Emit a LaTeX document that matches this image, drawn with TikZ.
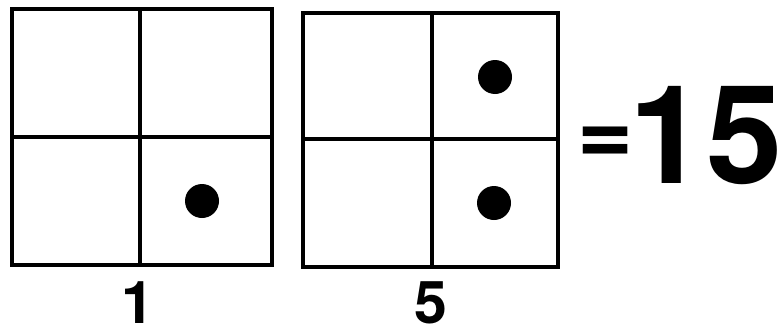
\documentclass[tikz,border=0pt]{standalone}
\usepackage{fontspec}
\setmainfont{TeX Gyre Heros}
\begin{document}
\begin{tikzpicture}[x=1pt,y=-1pt,
  frame/.style={draw=black,line width=4.5pt},
  divider/.style={draw=black,line width=4.5pt},
  dot/.style={circle,fill=black,minimum size=34pt,inner sep=0pt},
  lab/.style={font=\fontsize{59}{59}\selectfont\bfseries,inner sep=0pt,anchor=base},
  big/.style={font=\fontsize{137}{137}\selectfont\bfseries,inner sep=0pt,anchor=base}]
\useasboundingbox (0,0) rectangle (783,332);
% left square
\draw[frame] (12,9) rectangle (272,265);
\draw[divider] (140,9) -- (140,265);
\draw[divider] (12,137) -- (272,137);
\node[dot] (d1) at (202,201) {};
% right square
\draw[frame] (303,13) rectangle (558,267);
\draw[divider] (432,13) -- (432,267);
\draw[divider] (303,139) -- (558,139);
\node[dot] (d2) at (495,77) {};
\node[dot] (d3) at (494,203) {};
% labels
\node[lab] (l1) at (138,323) {1};
\node[lab] (l5) at (431,323) {5};
\node[big,font=\fontsize{96}{96}\selectfont\bfseries] (eq) at (606,164) {=};
\node[big] (n15) at (706,183) {15};
\end{tikzpicture}
\end{document}
